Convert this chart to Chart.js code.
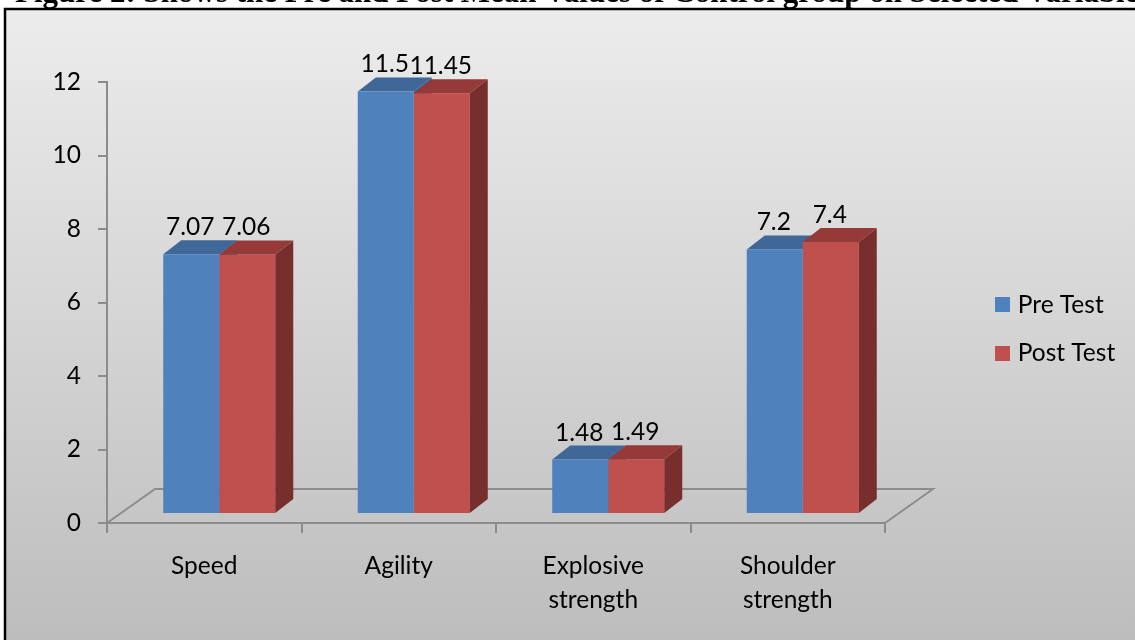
<!DOCTYPE html>
<html>
<head>
<meta charset="utf-8">
<style>
html,body{margin:0;padding:0;background:#fff;overflow:hidden}
#wrap{position:relative;width:1135px;height:640px}
canvas{display:block}
</style>
<script src="https://cdn.jsdelivr.net/npm/chart.js@4/dist/chart.umd.min.js"></script>
</head>
<body>
<div id="wrap"><canvas id="c" width="1135" height="640"></canvas></div>
<script>
const titleText = "Figure 2: Shows the Pre and Post Mean Values of Control group on Selected Variables";
const categories = ["Speed", "Agility", ["Explosive", "strength"], ["Shoulder", "strength"]];
const preTest = [7.07, 11.5, 1.48, 7.2];
const postTest = [7.06, 11.45, 1.49, 7.4];
const preLabels = ["7.07", "11.5", "1.48", "7.2"];
const postLabels = ["7.06", "11.45", "1.49", "7.4"];
const yTicks = [0, 2, 4, 6, 8, 10, 12];

const FONT = "Lato, Carlito, sans-serif";
const AXIS = "#8c8c8c";
const PRE = "#4f81bd";
const POST = "#c0504d";
const shift = {x: 15, y: -9};
const depth = {x: 18, y: 14};
const floor = {x: 48, y: 34};
const faces = [
  {top: "#3f6797", side: "#3b5f8a"},
  {top: "#953a38", side: "#772f2d"}
];

function swatch(color) {
  const s = document.createElement("canvas");
  s.width = 15; s.height = 15;
  const x = s.getContext("2d");
  x.fillStyle = color;
  x.fillRect(0, 0, 15, 15);
  return s;
}

function drawFaces(chart, i) {
  const c = chart.ctx;
  chart.getDatasetMeta(i).data.forEach(b => {
    const p = b.getProps(["x", "y", "base", "width"], true);
    const L = p.x - p.width / 2, R = p.x + p.width / 2;
    c.fillStyle = faces[i].side;
    c.beginPath();
    c.moveTo(R, p.y);
    c.lineTo(R + depth.x, p.y - depth.y);
    c.lineTo(R + depth.x, p.base - depth.y);
    c.lineTo(R, p.base);
    c.closePath();
    c.fill();
    c.fillStyle = faces[i].top;
    c.beginPath();
    c.moveTo(L, p.y);
    c.lineTo(L + depth.x, p.y - depth.y);
    c.lineTo(R + depth.x, p.y - depth.y);
    c.lineTo(R, p.y);
    c.closePath();
    c.fill();
  });
}

const look3d = {
  id: "look3d",
  beforeLayout(chart) {
    const l = chart.legend;
    const fit = l.fit;
    l.fit = function () { fit.call(this); this.width = 250; };
  },
  afterLayout(chart) {
    const l = chart.legend;
    l.left = 975.5; l.right = 1135; l.top = 253; l.bottom = 405;
    const t = chart.titleBlock;
    t.left = 15; t.right = 1300; t.top = -22; t.bottom = 9;
  },
  beforeDraw(chart) {
    const c = chart.ctx;
    const g = c.createLinearGradient(0, 9, 0, 640);
    g.addColorStop(0, "#ececec");
    g.addColorStop(1, "#bdbdbd");
    c.save();
    c.fillStyle = g;
    c.fillRect(5, 9, 1135, 640);
    c.strokeStyle = "#000";
    c.lineWidth = 2.5;
    c.strokeRect(5, 9, 1140, 640);
    c.restore();
  },
  beforeDatasetsDraw(chart) {
    const c = chart.ctx, a = chart.chartArea;
    c.save();
    c.strokeStyle = AXIS;
    c.lineWidth = 2;
    c.beginPath();
    c.moveTo(a.left, a.bottom);
    c.lineTo(a.left + floor.x, a.bottom - floor.y);
    c.lineTo(a.right + floor.x, a.bottom - floor.y);
    c.lineTo(a.right, a.bottom);
    c.stroke();
    c.restore();
    c.save();
    c.translate(shift.x, shift.y);
    drawFaces(chart, 0);
  },
  afterDatasetsDraw(chart) {
    const c = chart.ctx;
    drawFaces(chart, 1);
    c.fillStyle = "#000";
    c.font = "24.5px " + FONT;
    c.textAlign = "center";
    c.textBaseline = "middle";
    [preLabels, postLabels].forEach((labels, i) => {
      chart.getDatasetMeta(i).data.forEach((b, j) => {
        const p = b.getProps(["x", "y"], true);
        c.fillText(labels[j], p.x - 1, p.y - 27);
      });
    });
    c.restore();
  }
};

new Chart(document.getElementById("c"), {
  type: "bar",
  plugins: [look3d],
  data: {
    labels: categories,
    datasets: [
      {label: "Pre Test", data: preTest, backgroundColor: PRE, pointStyle: swatch(PRE)},
      {label: "Post Test", data: postTest, backgroundColor: POST, pointStyle: swatch(POST)}
    ]
  },
  options: {
    responsive: false,
    animation: false,
    devicePixelRatio: 1,
    layout: {padding: {left: 47, top: 51, right: 0, bottom: 17}},
    datasets: {bar: {categoryPercentage: 0.576, barPercentage: 1}},
    plugins: {
      tooltip: {enabled: false},
      title: {
        display: true,
        text: titleText,
        align: "start",
        color: "#000",
        padding: 0,
        font: {family: "'Liberation Serif', serif", size: 31, weight: "bold", lineHeight: 1}
      },
      legend: {
        display: true,
        position: "right",
        labels: {
          usePointStyle: true,
          pointStyleWidth: 6,
          boxHeight: 15,
          padding: 24,
          color: "#000",
          font: {family: FONT, size: 24.5}
        }
      }
    },
    scales: {
      x: {
        afterFit(s) { s.height = 100; },
        border: {display: true, color: AXIS, width: 2},
        grid: {drawOnChartArea: false, drawTicks: true, color: AXIS, lineWidth: 2, tickLength: 10},
        ticks: {color: "#000", padding: 17, maxRotation: 0, autoSkip: false, font: {family: FONT, size: 24.5, lineHeight: 1.35}}
      },
      y: {
        min: 0,
        max: 12,
        afterFit(s) { s.width = 60; },
        afterBuildTicks(s) { s.ticks = yTicks.map(v => ({value: v})); },
        border: {display: true, color: AXIS, width: 2},
        grid: {drawOnChartArea: false, drawTicks: true, color: AXIS, lineWidth: 2, tickLength: 9},
        ticks: {color: "#000", padding: 17, font: {family: FONT, size: 24.5}}
      }
    }
  }
});
</script>
</body>
</html>
